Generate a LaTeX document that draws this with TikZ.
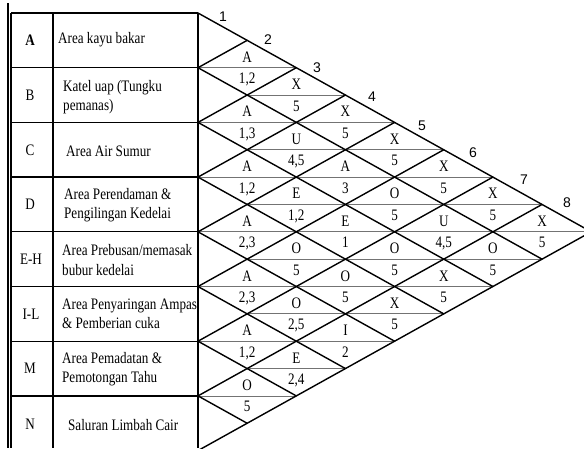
\documentclass[tikz,border=0pt]{standalone}
\usepackage{fontspec}
\setmainfont[FakeStretch=0.82]{Liberation Serif}
\newfontfamily\numfont{Liberation Sans}
\begin{document}
\begin{tikzpicture}[x=1pt,y=-1pt,
  diag/.style={line width=1.4pt, line cap=round},
  midline/.style={line width=0.8pt, draw=black!55},
  tbl/.style={line width=1.3pt},
  pairlbl/.style={font=\fontsize{16}{18}\selectfont, inner sep=0pt, anchor=base},
  numlbl/.style={font=\numfont\fontsize{14}{16}\selectfont, inner sep=0pt},
  codelbl/.style={font=\fontsize{16}{18}\selectfont, inner sep=0pt},
  rowtxt/.style={font=\fontsize{16}{19.5}\selectfont, align=left, anchor=west, inner sep=0pt},
]
\def\cw{49.15}
\def\rh{54.7}
\useasboundingbox (0,0) rectangle (584,448);

\begin{scope}
\clip (0,0) rectangle (584,448);

% left points of the relationship chart (row boundaries)
\foreach \k in {0,...,8}
  \coordinate (L\k) at (198,{13+\k*\rh});

% mid lines and ratings of every pair of areas
\foreach \i/\j/\u/\v in {
  0/1/A/{1,2}, 1/2/A/{1,3}, 2/3/A/{1,2}, 3/4/A/{2,3}, 4/5/A/{2,3}, 5/6/A/{1,2}, 6/7/O/5,
  0/2/X/5, 1/3/U/{4,5}, 2/4/E/{1,2}, 3/5/O/5, 4/6/O/{2,5}, 5/7/E/{2,4},
  0/3/X/5, 1/4/A/3, 2/5/E/1, 3/6/O/5, 4/7/I/2,
  0/4/X/5, 1/5/O/5, 2/6/O/5, 3/7/X/5,
  0/5/X/5, 1/6/U/{4,5}, 2/7/X/5,
  0/6/X/5, 1/7/O/5,
  0/7/X/5}{
  \coordinate (P\i\j) at ({198+(\j-\i)*\cw},{13+(\i+\j+1)*\rh/2});
  \draw[midline] ([xshift=-\cw pt]P\i\j) -- ([xshift=\cw pt]P\i\j);
  \node[pairlbl] (U\i\j) at ([yshift=5.5pt]P\i\j) {\u};
  \node[pairlbl] (V\i\j) at ([yshift=-16pt]P\i\j) {\v};
}

% diagonal grid
\foreach \k in {0,...,7}
  \draw[diag] (L\k) -- ++({(8-\k)*\cw},{(8-\k)*\rh/2});
\foreach \k in {1,...,8}
  \draw[diag] (L\k) -- ++({\k*\cw},{-\k*\rh/2});

% table of areas
\draw[tbl] (8,3) -- (8,448);
\draw[tbl] (11,13) -- (11,448);
\draw[tbl] (53,13) -- (53,448);
\draw[tbl] (L0) -- (198,448);
\foreach \k in {0,...,7}
  \draw[tbl] (11,{13+\k*\rh}) -- (L\k);
\end{scope}

% area codes
\node[codelbl] (cA) at (30,40) {\bfseries A};
\node[codelbl] (cB) at (30,95) {B};
\node[codelbl] (cC) at (30,150) {C};
\node[codelbl] (cD) at (30,204) {D};
\node[codelbl] (cE) at (31,259) {E-H};
\node[codelbl] (cI) at (31,314) {I-L};
\node[codelbl] (cM) at (30,368) {M};
\node[codelbl] (cN) at (30,424) {N};

% area names
\node[rowtxt] (tA) at (58,40) {Area kayu bakar};
\node[rowtxt] (tB) at (63,97) {Katel uap (Tungku\\pemanas)};
\node[rowtxt] (tC) at (66,151) {Area Air Sumur};
\node[rowtxt] (tD) at (64,205) {Area Perendaman \&\\Pengilingan Kedelai};
\node[rowtxt] (tE) at (62,260) {Area Prebusan/memasak\\bubur kedelai};
\node[rowtxt] (tI) at (62,314) {Area Penyaringan Ampas\\\& Pemberian cuka};
\node[rowtxt] (tM) at (62,369) {Area Pemadatan \&\\Pemotongan Tahu};
\node[rowtxt] (tN) at (68,425) {Saluran Limbah Cair};

% area numbers along the upper edge
\node[numlbl] (n1) at (223,17) {1};
\node[numlbl] (n2) at (268,40) {2};
\node[numlbl] (n3) at (317,68) {3};
\node[numlbl] (n4) at (372,97) {4};
\node[numlbl] (n5) at (422,126) {5};
\node[numlbl] (n6) at (473,153) {6};
\node[numlbl] (n7) at (524,180) {7};
\node[numlbl] (n8) at (567,203) {8};
\end{tikzpicture}
\end{document}
